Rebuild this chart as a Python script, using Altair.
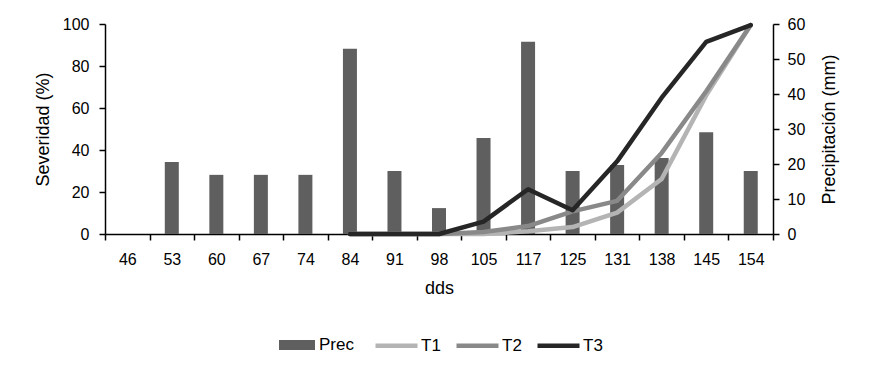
import altair as alt
import pandas as pd

dds = ["46", "53", "60", "67", "74", "84", "91", "98", "105", "117", "125", "131", "138", "145", "154"]
prec = [0, 20.6, 16.9, 16.9, 16.9, 52.9, 18.0, 7.4, 27.4, 54.9, 18.0, 19.7, 21.7, 29.1, 18.0]
t1 = [None, None, None, None, None, 0, 0, 0, 0, 1.3, 3.3, 10.2, 26.2, 66.0, 99.5]
t2 = [None, None, None, None, None, 0, 0, 0, 1.0, 3.8, 10.8, 15.8, 38.6, 68.0, 99.5]
t3 = [None, None, None, None, None, 0, 0, 0, 5.9, 21.3, 11.3, 34.6, 64.9, 91.5, 99.5]

series_names = ["T1", "T2", "T3"]
series_colors = ["#b4b4b4", "#898989", "#262626"]
bar_color = "#5f5f5f"

FONT = "Liberation Sans"
TICK_FS = 16
TITLE_FS = 18
LEGEND_FS = 17

bars_df = pd.DataFrame({"dds": dds, "prec": prec, "serie": ["Prec"] * len(dds)})
rows = []
for name, vals in zip(series_names, [t1, t2, t3]):
    for d, v in zip(dds, vals):
        if v is not None:
            rows.append({"dds": d, "sev": v, "serie": name})
lines_df = pd.DataFrame(rows)

x_axis = alt.Axis(
    title="dds", labelAngle=0, tickBand="extent", grid=False,
    domainColor="black", domainWidth=1.5, tickColor="black", tickWidth=1.5, tickSize=6,
    labelFont=FONT, labelFontSize=TICK_FS, labelColor="black", labelPadding=11,
    titleFont=FONT, titleFontSize=TITLE_FS, titleFontWeight="normal", titleColor="black", titlePadding=12,
)
x_enc = alt.X("dds:N", sort=dds, scale=alt.Scale(paddingInner=0, paddingOuter=0), axis=x_axis)

bars = alt.Chart(bars_df).mark_bar(size=14).encode(
    x=x_enc,
    y=alt.Y("prec:Q", scale=alt.Scale(domain=[0, 60], nice=False),
            axis=alt.Axis(orient="right", values=[0, 10, 20, 30, 40, 50, 60], title="Precipitación (mm)",
                          grid=False, domainColor="black", domainWidth=1.5, tickColor="black",
                          tickWidth=1.5, tickSize=6, labelFont=FONT, labelFontSize=TICK_FS,
                          labelColor="black", labelPadding=8, titleFont=FONT, titleFontSize=TITLE_FS,
                          titleFontWeight="normal", titleColor="black", titleAngle=270,
                          titleBaseline="top", titlePadding=16)),
    color=alt.Color("serie:N", scale=alt.Scale(domain=["Prec"], range=[bar_color]),
                    legend=alt.Legend(title=None, orient="none", legendX=174, legendY=303,
                                      direction="horizontal",
                                      symbolType="M-1,-0.28H1V0.28H-1Z", symbolSize=1296,
                                      symbolStrokeWidth=0, symbolOpacity=1,
                                      labelFont=FONT, labelFontSize=LEGEND_FS, labelColor="black",
                                      labelOffset=4)),
)

lines = alt.Chart(lines_df).mark_line(strokeWidth=4.5, strokeJoin="round", strokeCap="round").encode(
    x=x_enc,
    y=alt.Y("sev:Q", scale=alt.Scale(domain=[0, 100], nice=False),
            axis=alt.Axis(orient="left", values=[0, 20, 40, 60, 80, 100], title="Severidad (%)",
                          grid=False, domainColor="black", domainWidth=1.5, tickColor="black",
                          tickWidth=1.5, tickSize=6, labelFont=FONT, labelFontSize=TICK_FS,
                          labelColor="black", labelPadding=10, titleFont=FONT, titleFontSize=TITLE_FS,
                          titleFontWeight="normal", titleColor="black", titlePadding=10)),
    color=alt.Color("serie:N", scale=alt.Scale(domain=series_names, range=series_colors),
                    legend=alt.Legend(title=None, orient="none", legendX=268, legendY=298,
                                      direction="horizontal", symbolType="stroke",
                                      symbolSize=1764, symbolStrokeWidth=4.5, columnPadding=6,
                                      labelFont=FONT, labelFontSize=LEGEND_FS, labelColor="black",
                                      labelOffset=1)),
)

chart = alt.layer(bars, lines).resolve_scale(y="independent", color="independent").properties(
    width=668, height=210,
    padding={"left": 97, "top": 16, "right": 88, "bottom": 134},
    autosize=alt.AutoSizeParams(type="none"),
    background="white",
).configure_view(stroke=None)

chart.save("out.html", embed_options={"renderer": "svg", "actions": False})
